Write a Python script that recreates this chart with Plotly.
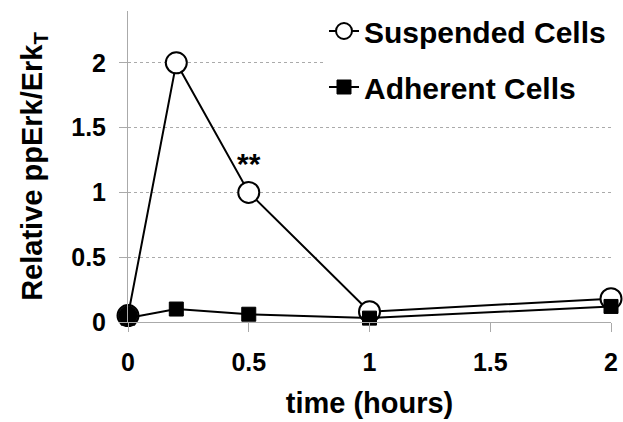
import plotly.graph_objects as go

time_susp = [0, 0.2, 0.5, 1, 2]
suspended = [0.05, 2.0, 1.0, 0.08, 0.18]
time_adh = [0, 0.2, 0.5, 1, 2]
adherent = [0.03, 0.1, 0.06, 0.03, 0.12]
x_ticks = [0, 0.5, 1, 1.5, 2]
x_tick_labels = ["0", "0.5", "1", "1.5", "2"]
y_ticks = [0, 0.5, 1, 1.5, 2]
y_tick_labels = ["0", "0.5", "1", "1.5", "2"]

FONT = "Liberation Sans, Arial, sans-serif"

fig = go.Figure()
fig.add_trace(go.Scatter(
    x=time_susp, y=suspended, mode="lines+markers", name="Suspended Cells",
    legendgroup="s",
    line=dict(color="black", width=2),
    marker=dict(symbol="circle", size=21, color="white", line=dict(color="black", width=2)),
    cliponaxis=False,
))
# filled starting point (first suspended sample drawn solid as in the original)
fig.add_trace(go.Scatter(
    x=time_susp[:1], y=suspended[:1], mode="markers", showlegend=False,
    marker=dict(symbol="circle", size=19, color="black", line=dict(color="black", width=1)),
    cliponaxis=False, hoverinfo="skip",
))
fig.add_trace(go.Scatter(
    x=time_adh, y=adherent, mode="lines+markers", name="Adherent Cells",
    legendgroup="a",
    line=dict(color="black", width=2),
    marker=dict(symbol="square", size=14, color="black", line=dict(color="black", width=1)),
    cliponaxis=False,
))
fig.add_annotation(x=0.5, y=1.22, text="**", showarrow=False,
                   font=dict(family=FONT, size=30, color="black", weight="bold"))

fig.update_layout(
    width=623, height=422,
    margin=dict(l=128, r=12, t=5, b=100),
    paper_bgcolor="white", plot_bgcolor="white",
    font=dict(family=FONT, size=25, color="black", weight="bold"),
    showlegend=True,
    legend=dict(x=1.0, y=1.0, xanchor="right", yanchor="top",
                bgcolor="white", font=dict(size=30, family=FONT, weight="bold"),
                tracegroupgap=14, itemwidth=30),
    xaxis=dict(range=[0, 2], tickvals=x_ticks, ticktext=x_tick_labels,
               showgrid=False, zeroline=False, showline=True, linecolor="#aaaaaa",
               linewidth=1, ticks="outside", ticklen=9, tickcolor="#aaaaaa",
               automargin=False, ticklabelstandoff=9,
               tickfont=dict(size=25, family=FONT, weight="bold"),
               title=dict(text="time (hours)", font=dict(size=29, family=FONT, weight="bold"),
                          standoff=17)),
    yaxis=dict(range=[0, 2.4], tickvals=y_ticks, ticktext=y_tick_labels,
               domain=[0, 1 - 6 / 317],
               showgrid=True, gridcolor="#aaaaaa", griddash="dot", gridwidth=1,
               zeroline=False, showline=True, linecolor="#aaaaaa", linewidth=1,
               ticks="outside", ticklen=8, tickcolor="#aaaaaa",
               automargin=False, ticklabelstandoff=8,
               tickfont=dict(size=25, family=FONT, weight="bold"),
               title=dict(text="Relative ppErk/Erk<sub>T</sub>",
                          font=dict(size=29, family=FONT, weight="bold"), standoff=20)),
)

fig.write_html("out.html", config={"displayModeBar": False},
               post_script="document.body.style.margin='0';")
